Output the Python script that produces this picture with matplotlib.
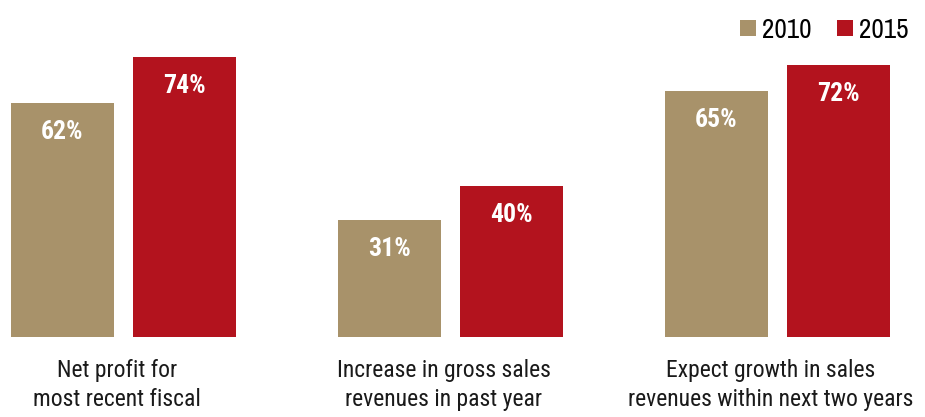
import matplotlib
matplotlib.use("Agg")
import matplotlib.pyplot as plt
import numpy as np
from matplotlib import font_manager

# Survey results by category
categories = [
    "Net profit for\nmost recent fiscal",
    "Increase in gross sales\nrevenues in past year",
    "Expect growth in sales\nrevenues within next two years",
]
series_names = ["2010", "2015"]
values_2010 = [62, 31, 65]
values_2015 = [74, 40, 72]

colors = ["#A8926A", "#B3131E"]

available = {f.name for f in font_manager.fontManager.ttflist}


def pick(candidates):
    for name in candidates:
        if name in available:
            return [name, "DejaVu Sans"]
    return ["DejaVu Sans"]


BODY = pick(["Roboto Condensed", "Barlow Semi Condensed", "Archivo Narrow",
             "Liberation Sans Narrow", "DejaVu Sans"])
LEGEND = pick(["Archivo Narrow", "Liberation Sans Narrow", "Roboto Condensed",
               "DejaVu Sans"])

W, H = 925, 417
fig = plt.figure(figsize=(W / 100, H / 100), dpi=100)
bottom_px = 337
ax = fig.add_axes([0, (H - bottom_px) / H, 1, bottom_px / H])

group_px = 327.0
first_center_px = 123.5
px_per_pct = 3.78

x = np.arange(len(categories))
width = 103 / group_px
offset = 61.3 / group_px

bars_a = ax.bar(x - offset, values_2010, width, color=colors[0], label=series_names[0])
bars_b = ax.bar(x + offset, values_2015, width, color=colors[1], label=series_names[1])

ax.set_xlim(-first_center_px / group_px, (W - first_center_px) / group_px)
ax.set_ylim(0, bottom_px / px_per_pct)
ax.axis("off")

label_drop = 29 / px_per_pct
for bars in (bars_a, bars_b):
    for b in bars:
        v = b.get_height()
        ax.text(b.get_x() + b.get_width() / 2, v - label_drop, f"{v:.0f}%",
                ha="center", va="center", color="white", fontsize=18.5,
                fontweight="bold", family=BODY)

for xi, cat in zip(x, categories):
    ax.text(xi - 0.02, -22 / px_per_pct, cat, ha="center", va="top",
            fontsize=17, color="#1a1a1a", family=BODY, linespacing=1.33)

leg = fig.legend(handles=[bars_a, bars_b], loc="upper right",
                 bbox_to_anchor=(922 / W, 1 - 4 / H), ncol=2, frameon=False,
                 prop={"family": LEGEND, "size": 19.5},
                 handlelength=0.58, handleheight=0.58, handletextpad=0.22,
                 columnspacing=0.95, borderpad=0.0)

fig.savefig("out.png", dpi=100)
